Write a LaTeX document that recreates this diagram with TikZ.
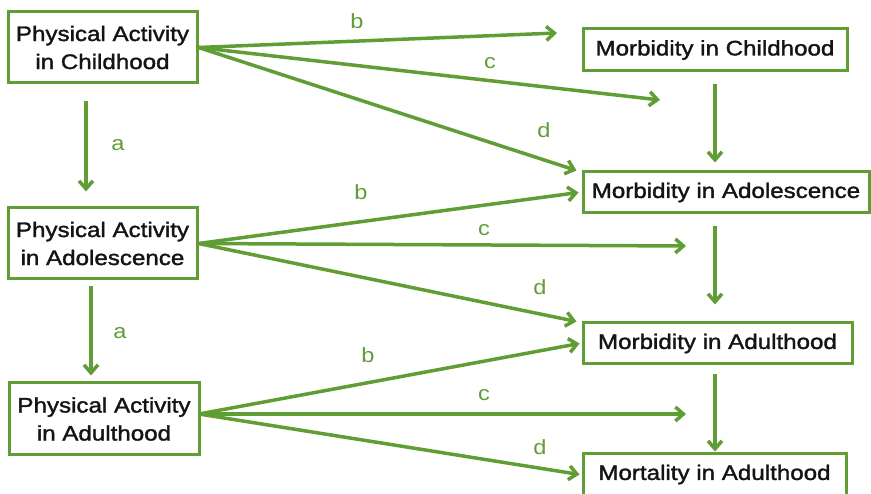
\documentclass[tikz,border=0pt]{standalone}
\usepackage{fontspec}
\setmainfont{Liberation Sans}[FakeStretch=1.15]
\newfontfamily\boxfont{Liberation Sans}[FakeStretch=1.15, FakeBold=1.6]
\usetikzlibrary{arrows.meta}
\usetikzlibrary{positioning}
\definecolor{pagreen}{RGB}{96,157,52}

\begin{document}
\begin{tikzpicture}[x=1pt, y=-1pt,
    box/.style={draw=pagreen, line width=3pt, fill=white, align=center, inner sep=0pt,
      font=\boxfont\fontsize{21}{28}\selectfont, text=black!92},
    arr/.style={draw=pagreen, line width=3.5pt, -{Straight Barb[length=8pt,width=14pt]}},
    lbl/.style={text=pagreen, font=\fontsize{20.5}{22}\selectfont}]
    \useasboundingbox (0,0) rectangle (871,494);

    % physical activity
    \node[box, minimum width=189pt, minimum height=71pt] (pachild) at (102.5,47.5) {Physical Activity\\in Childhood};
    \node[box, minimum width=189pt, minimum height=71pt] (paadol) at (102.5,243.5) {Physical Activity\\in Adolescence};
    \node[box, minimum width=190pt, minimum height=72pt] (paadult) at (104,419) {Physical Activity\\in Adulthood};

    % outcomes
    \node[box, minimum width=264pt, minimum height=42pt] (morbchild) at (715,50) {Morbidity in Childhood};
    \node[box, minimum width=286pt, minimum height=41pt] (morbadol) at (726,192.5) {Morbidity in Adolescence};
    \node[box, minimum width=269pt, minimum height=41pt] (morbadult) at (717.5,343.5) {Morbidity in Adulthood};
    \node[box, minimum width=263pt, minimum height=41pt] (mortadult) at (714.5,474.5) {Mortality in Adulthood};

    % free ends
    \coordinate (bend1) at (557,33);
    \coordinate (cend1) at (660,100);
    \coordinate (cend2) at (686,246);
    \coordinate (cend3) at (686,414);
    \coordinate (fan3) at (199,414);

    % a
    \draw[arr, shorten <=17pt, shorten >=15pt] ([xshift=-16.5pt]pachild.south) -- ([xshift=-16.5pt]pachild.south |- paadol.north);
    \draw[arr, shorten <=6pt, shorten >=6pt] ([xshift=-11.5pt]paadol.south) -- ([xshift=-11.5pt]paadol.south |- paadult.north);

    % childhood
    \draw[arr] (pachild.east) -- (bend1);
    \draw[arr] (pachild.east) -- (cend1);
    \draw[arr] (pachild.east) -- ([xshift=-5pt]morbadol.north west);

    % adolescence
    \draw[arr] (paadol.east) -- ([xshift=-3pt]morbadol.west);
    \draw[arr] (paadol.east) -- (cend2);
    \draw[arr] (paadol.east) -- ([xshift=-5pt]morbadult.north west);

    % adulthood
    \draw[arr] (fan3) -- ([xshift=-2pt]morbadult.west);
    \draw[arr] (fan3) -- (cend3);
    \draw[arr] (fan3) -- ([xshift=-2pt]mortadult.west);

    % outcome chain
    \draw[arr, shorten <=12pt, shorten >=8pt] (morbchild.south) -- (morbchild.south |- morbadol.north);
    \draw[arr, shorten <=12pt, shorten >=17pt] (morbchild.south |- morbadol.south) -- (morbchild.south |- morbadult.north);
    \draw[arr, shorten <=9pt, shorten >=1pt] (morbchild.south |- morbadult.south) -- (morbchild.south |- mortadult.north);

    % labels
    \node[lbl] (la1) at (118,145) {a};
    \node[lbl] (la2) at (120,333) {a};
    \node[lbl] (lb1) at (357,21) {b};
    \node[lbl] (lc1) at (490,63) {c};
    \node[lbl] (ld1) at (544,130) {d};
    \node[lbl] (lb2) at (361,192) {b};
    \node[lbl] (lc2) at (484,230) {c};
    \node[lbl] (ld2) at (540,287) {d};
    \node[lbl] (lb3) at (368,355) {b};
    \node[lbl] (lc3) at (484,395) {c};
    \node[lbl] (ld3) at (540,447) {d};
\end{tikzpicture}
\end{document}
